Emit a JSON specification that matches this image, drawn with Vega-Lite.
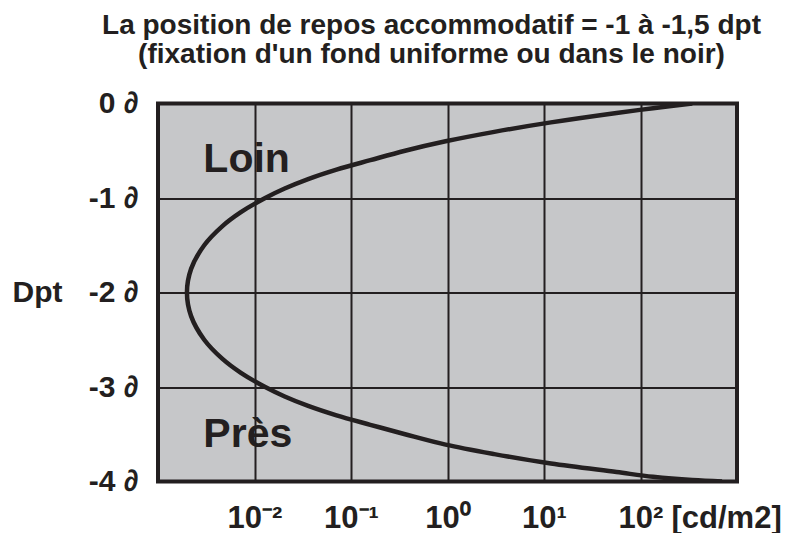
{
  "$schema": "https://vega.github.io/schema/vega-lite/v6.json",
  "autosize": "none",
  "width": 579,
  "height": 378,
  "padding": {"left": 158, "top": 103.5, "right": 66, "bottom": 51.5},
  "background": "white",
  "config": {
    "font": "Liberation Sans",
    "view": {"fill": "#c6c7c9", "stroke": "#231f20", "strokeWidth": 4}
  },
  "title": {
    "text": ["La position de repos accommodatif = -1 à -1,5 dpt", "(fixation d'un fond uniforme ou dans le noir)"],
    "font": "Liberation Sans",
    "fontSize": 28,
    "fontWeight": "bold",
    "color": "#231f20",
    "lineHeight": 29,
    "anchor": "middle",
    "frame": "group",
    "dx": -16,
    "baseline": "alphabetic",
    "offset": -2.5
  },
  "datasets": {
    "curve": [
      {"i": 1, "L": 343.6, "dpt": 0.0},
      {"i": 2, "L": 134.9, "dpt": -0.05},
      {"i": 3, "L": 56.49, "dpt": -0.1},
      {"i": 4, "L": 11.8, "dpt": -0.2},
      {"i": 5, "L": 3.055, "dpt": -0.3},
      {"i": 6, "L": 0.955, "dpt": -0.4},
      {"i": 7, "L": 0.3631, "dpt": -0.5},
      {"i": 8, "L": 0.1585, "dpt": -0.6},
      {"i": 9, "L": 0.07079, "dpt": -0.7},
      {"i": 10, "L": 0.03597, "dpt": -0.8},
      {"i": 11, "L": 0.02056, "dpt": -0.9},
      {"i": 12, "L": 0.01291, "dpt": -1.0},
      {"i": 13, "L": 0.007228, "dpt": -1.15},
      {"i": 14, "L": 0.004624, "dpt": -1.3},
      {"i": 15, "L": 0.003013, "dpt": -1.5},
      {"i": 16, "L": 0.002203, "dpt": -1.75},
      {"i": 17, "L": 0.001995, "dpt": -2.0},
      {"i": 18, "L": 0.002203, "dpt": -2.25},
      {"i": 19, "L": 0.003013, "dpt": -2.5},
      {"i": 20, "L": 0.004624, "dpt": -2.7},
      {"i": 21, "L": 0.007228, "dpt": -2.85},
      {"i": 22, "L": 0.01291, "dpt": -3.0},
      {"i": 23, "L": 0.02056, "dpt": -3.1},
      {"i": 24, "L": 0.03597, "dpt": -3.2},
      {"i": 25, "L": 0.07079, "dpt": -3.3},
      {"i": 26, "L": 0.1585, "dpt": -3.4},
      {"i": 27, "L": 0.3631, "dpt": -3.5},
      {"i": 28, "L": 0.955, "dpt": -3.61},
      {"i": 29, "L": 3.055, "dpt": -3.71},
      {"i": 30, "L": 11.8, "dpt": -3.81},
      {"i": 31, "L": 56.49, "dpt": -3.9},
      {"i": 32, "L": 134.9, "dpt": -3.95},
      {"i": 33, "L": 343.6, "dpt": -3.985},
      {"i": 34, "L": 700, "dpt": -4.0}
    ],
    "labels": [
      {"t": "Loin", "L": 0.00295, "dpt": -0.725},
      {"t": "Près", "L": 0.00295, "dpt": -3.635}
    ]
  },
  "layer": [
    {
      "data": {"name": "curve"},
      "mark": {"type": "line", "color": "#231f20", "strokeWidth": 4.5, "interpolate": "catmull-rom", "clip": true},
      "encoding": {
        "x": {
          "field": "L", "type": "quantitative",
          "scale": {"type": "log", "domain": [0.001, 1000], "nice": false},
          "axis": {
            "values": [0.001, 0.01, 0.1, 1, 10, 100, 1000],
            "labelExpr": "datum.value == 0.01 ? '10⁻²' : datum.value == 0.1 ? '10⁻¹' : datum.value == 1 ? '10⁰' : datum.value == 10 ? '10¹' : datum.value == 100 ? '10²' : ''",
            "title": "[cd/m2]",
            "titleFont": "Liberation Sans",
            "titleFontSize": 31,
            "titleFontWeight": "bold",
            "titleColor": "#231f20",
            "titleAnchor": "start",
            "titleAlign": "left",
            "titleBaseline": "alphabetic",
            "titleX": 513,
            "titleY": 45.5,
            "labelFont": "Liberation Sans",
            "labelFontSize": 31,
            "labelFontWeight": "bold",
            "labelColor": "#231f20",
            "labelBaseline": "alphabetic",
            "labelPadding": 45.5,
            "labelFlush": false,
            "labelOverlap": false,
            "ticks": false,
            "tickSize": 0,
            "domain": false,
            "grid": true,
            "gridColor": "#231f20",
            "gridWidth": 2,
            "gridOpacity": 1
          }
        },
        "y": {
          "field": "dpt", "type": "quantitative",
          "scale": {"domain": [-4, 0], "nice": false, "zero": false},
          "axis": {
            "values": [-4, -3, -2, -1, 0],
            "labelExpr": "datum.value == 0 ? '0 ∂' : '-' + abs(datum.value) + ' ∂'",
            "title": "Dpt",
            "titleFont": "Liberation Sans",
            "titleFontSize": 30,
            "titleFontWeight": "bold",
            "titleColor": "#231f20",
            "titleAngle": 0,
            "titleAlign": "left",
            "titleBaseline": "middle",
            "titleX": -146,
            "titleY": 189,
            "labelFont": "Liberation Sans",
            "labelFontSize": 30,
            "labelFontWeight": "bold",
            "labelColor": "#231f20",
            "labelBaseline": "middle",
            "labelPadding": 20,
            "labelFlush": false,
            "labelOverlap": false,
            "ticks": false,
            "tickSize": 0,
            "domain": false,
            "grid": true,
            "gridColor": "#231f20",
            "gridWidth": 2,
            "gridOpacity": 1
          }
        },
        "order": {"field": "i", "type": "quantitative"}
      }
    },
    {
      "data": {"name": "labels"},
      "mark": {"type": "text", "font": "Liberation Sans", "fontSize": 41, "fontWeight": "bold", "color": "#231f20", "align": "left", "baseline": "alphabetic"},
      "encoding": {
        "x": {"field": "L", "type": "quantitative"},
        "y": {"field": "dpt", "type": "quantitative"},
        "text": {"field": "t"}
      }
    }
  ]
}
